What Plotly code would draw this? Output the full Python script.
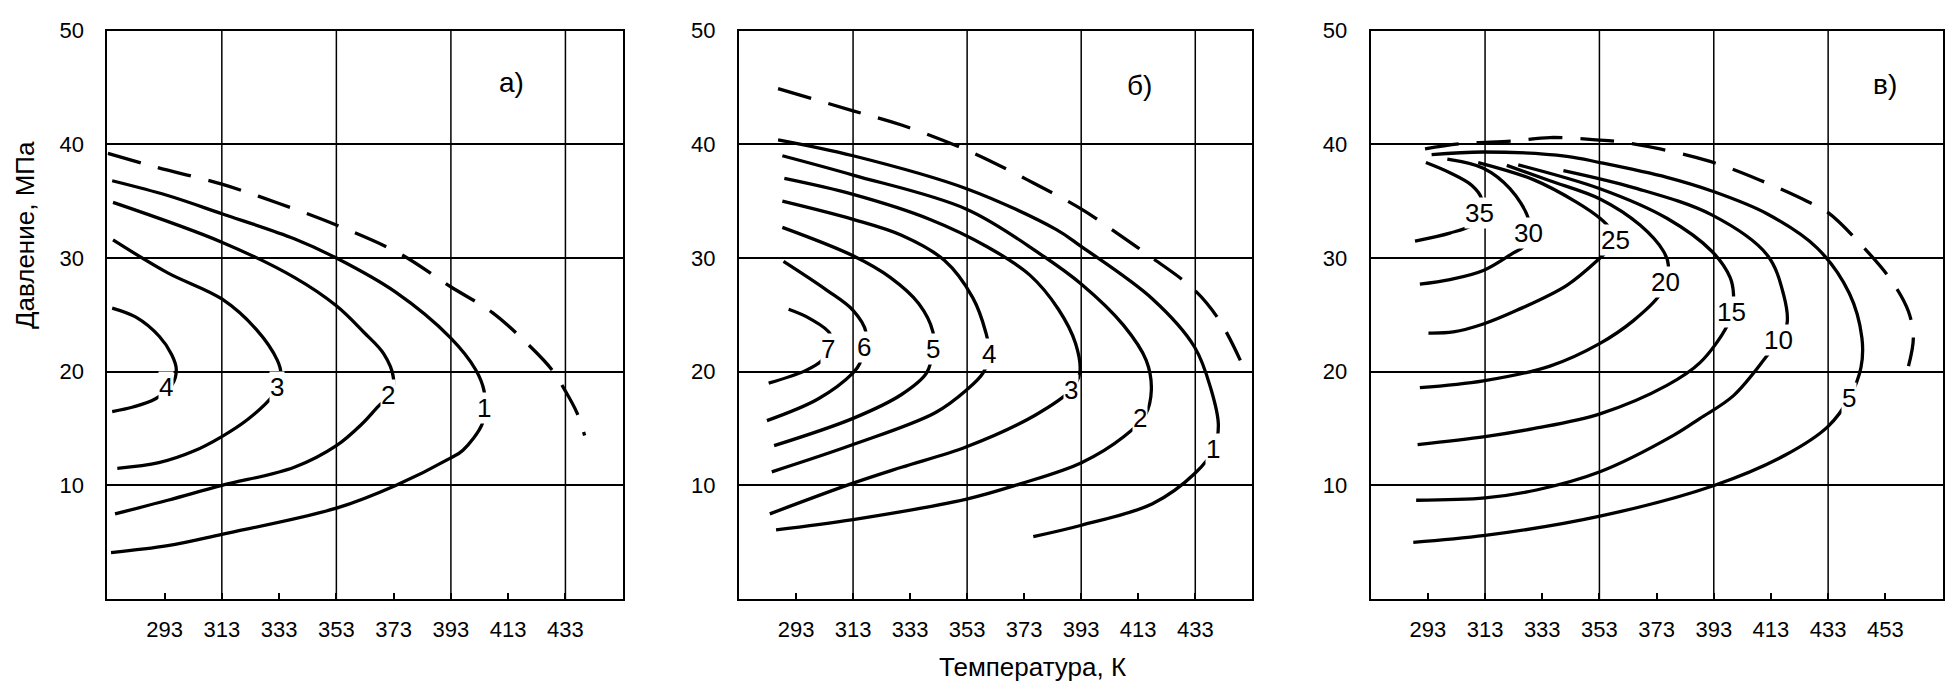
import plotly.graph_objects as go

# ---------------- data (T in K, P in MPa) ----------------
# Panel а)
A_DASH_T = [273.2, 290, 313, 333, 353, 375.1, 392.8, 407.5, 420.8, 428.2, 433, 437, 439.7]
A_DASH_P = [39.2, 38.0, 36.5, 34.8, 32.9, 30.4, 27.5, 25.2, 22.2, 20.2, 18.3, 16.4, 14.4]
A1_T = [274.7, 294.1, 313, 338.3, 353, 373.7, 392.8, 401.6, 404.6, 404.6, 403.9, 397.2, 392.8, 373.7, 353, 313, 294.1, 274.3]
A1_P = [36.8, 35.5, 33.9, 31.7, 30.0, 27.0, 23.0, 20.2, 18.3, 16.8, 15.4, 13.1, 12.4, 10.0, 8.0, 5.7, 4.7, 4.1]
A2_T = [275, 313, 338.3, 353, 362.5, 369.5, 372.9, 372, 367.8, 361.9, 353, 338.3, 313, 294.1, 275.7]
A2_P = [34.9, 31.4, 28.3, 25.8, 23.5, 21.6, 19.5, 18.0, 17.0, 15.4, 13.5, 11.6, 10.0, 8.7, 7.5]
A3_T = [275, 294.1, 313, 325.1, 332.4, 333.6, 332.5, 330.5, 322, 313, 303, 291, 276.5]
A3_P = [31.6, 28.7, 26.4, 23.7, 21.0, 19.9, 18.7, 17.8, 15.8, 14.3, 13.0, 12.0, 11.5]
A4_T = [274.7, 283, 291.2, 295.5, 297.1, 295.5, 289.7, 282, 274.7]
A4_P = [25.6, 24.8, 23.1, 21.5, 20.2, 18.8, 17.6, 16.9, 16.5]
A_LAB = ["4", "3", "2", "1"]
A_LAB_T = [293.4, 332.1, 371.0, 404.6]
A_LAB_P = [18.7, 18.7, 18.0, 16.8]

# Panel б)
B_DASH_T = [286.7, 313, 330, 352.8, 374, 393.1, 407.8, 418, 432.7, 441.5, 448.8]
B_DASH_P = [44.9, 42.95, 41.7, 39.5, 36.9, 34.3, 31.8, 30.0, 27.2, 24.5, 21.0]
B1_T = [286.7, 313, 352.8, 384.3, 393.1, 418, 432.7, 438.6, 441.1, 439.5, 433, 418, 393.1, 376.2]
B1_P = [40.4, 39.0, 36.1, 32.5, 31.0, 26.4, 22.2, 18.4, 15.3, 13.2, 11.1, 8.4, 6.5, 5.5]
B2_T = [288.2, 313, 352.8, 378.4, 393.1, 407.8, 415.8, 417.6, 415.5, 408, 393.1, 371.1, 352.8, 313, 286]
B2_P = [39.0, 37.3, 34.3, 30.4, 27.7, 24.1, 21.0, 18.4, 16.2, 14.3, 12.0, 10.1, 8.8, 7.0, 6.1]
B3_T = [288.9, 313, 340, 360, 375, 385, 391, 392.5, 389.4, 377, 352.8, 330, 313, 283.8]
B3_P = [37.0, 35.6, 33.4, 31.0, 28.5, 25.5, 22.5, 19.9, 18.4, 16.2, 13.4, 11.6, 10.2, 7.5]
B4_T = [288.2, 313, 330, 345, 355, 359.5, 360.8, 358.6, 352.8, 341.8, 313, 284.5]
B4_P = [35.0, 33.4, 32.0, 29.8, 26.5, 23.5, 21.6, 19.9, 18.4, 16.4, 13.6, 11.2]
B5_T = [288.2, 313, 326, 336, 341, 341.0, 338.8, 330, 313, 285.3]
B5_P = [32.7, 30.2, 28.3, 26.0, 23.5, 22.0, 19.9, 18.0, 15.9, 13.5]
B6_T = [288.6, 303.6, 313, 317.5, 316.8, 315.3, 313, 300.7, 282.8]
B6_P = [29.7, 27.2, 25.4, 23.5, 22.2, 20.7, 19.9, 17.6, 15.7]
B7_T = [290.4, 297.7, 305, 304.3, 302.1, 296.3, 283.4]
B7_P = [25.5, 24.7, 23.3, 22.0, 21.0, 20.1, 19.0]
B_LAB = ["7", "6", "5", "4", "3", "2", "1"]
B_LAB_T = [304.3, 316.8, 341.0, 360.8, 389.4, 413.6, 439.3]
B_LAB_P = [22.0, 22.2, 22.0, 21.6, 18.4, 15.9, 13.2]

# Panel в)
C_DASH_T = [292.0, 304.2, 322.9, 335.7, 351.8, 360.8, 374.2, 391.7, 409.2, 425.6, 433, 444.8, 455.2, 461.1, 462.8, 461.1]
C_DASH_P = [39.6, 40.05, 40.3, 40.6, 40.4, 40.2, 39.6, 38.5, 36.85, 35.0, 34.0, 31.1, 28.0, 25.3, 23.0, 20.5]
C5_T = [294.3, 312.4, 341.6, 353.2, 376.6, 392.3, 411.6, 429.1, 440.4, 444.8, 444.5, 440.4, 433, 418.2, 393.1, 353.2, 313, 287.9]
C5_P = [39.1, 39.33, 38.95, 38.4, 37.1, 35.9, 33.9, 30.9, 26.9, 23.0, 20.4, 17.7, 15.2, 12.7, 10.0, 7.3, 5.6, 5.0]
C10_T = [340.4, 364.9, 392.3, 411.6, 417.4, 418.6, 415.6, 411.6, 399.9, 388.2, 378.9, 353.2, 331, 313, 288.9]
C10_P = [37.7, 36.2, 33.8, 30.3, 26.8, 24.2, 22.75, 21.4, 17.9, 15.9, 14.4, 11.2, 9.6, 8.9, 8.7]
C15_T = [324.6, 353.2, 376.6, 392.3, 398.7, 399.9, 399.3, 397.6, 388.2, 376.6, 353.2, 329.9, 313, 289.4]
C15_P = [38.2, 36.1, 33.5, 30.6, 28.3, 26.8, 25.3, 24.0, 20.8, 18.8, 16.3, 15.0, 14.3, 13.6]
C20_T = [320.6, 335.7, 353.2, 367.2, 375.4, 377.1, 376, 374.2, 364.9, 353.2, 335.7, 312.4, 290.2]
C20_P = [38.15, 36.8, 35.2, 32.9, 30.6, 29.4, 27.9, 26.8, 24.5, 22.5, 20.5, 19.2, 18.6]
C25_T = [310.6, 329.9, 345.1, 353.2, 356.7, 358.5, 355.6, 353.2, 341.6, 324.1, 312.4, 301.9, 293.2]
C25_P = [38.4, 36.9, 34.9, 33.5, 32.6, 31.6, 30.6, 30.0, 27.6, 25.4, 24.2, 23.5, 23.4]
C30_T = [299.8, 312.4, 321.7, 328.1, 328.1, 326.4, 322.9, 312.4, 300.7, 290.2]
C30_P = [38.7, 37.9, 36.1, 33.5, 32.2, 31.0, 30.45, 28.9, 28.1, 27.7]
C35_T = [292.3, 300.7, 308.3, 311.8, 311.2, 308.3, 300.7, 288.5]
C35_P = [38.4, 37.5, 36.4, 35.2, 34.0, 32.9, 32.2, 31.5]
C_LAB = ["35", "30", "25", "20", "15", "10", "5"]
C_LAB_T = [311.2, 328.1, 358.5, 376.0, 399.3, 415.6, 440.4]
C_LAB_P = [34.0, 32.2, 31.6, 27.9, 25.3, 22.75, 17.7]

PANEL_TITLES = ["а)", "б)", "в)"]
PANEL_TITLE_T = [414.2, 413.6, 453.0]
PANEL_TITLE_P = [45.4, 45.2, 45.3]

X_TICKS_AB = [293, 313, 333, 353, 373, 393, 413, 433]
X_TICKS_C = [293, 313, 333, 353, 373, 393, 413, 433, 453]
X_GRID = [313, 353, 393, 433]
Y_TICKS = [10, 20, 30, 40, 50]
X_RANGES = [[273, 453], [273, 453], [273, 473]]

FONT = "Liberation Sans, Arial, sans-serif"
W, H = 1958, 693
LW = 3.3

fig = go.Figure()
panels = [
    ("x", "y", [(A_DASH_T, A_DASH_P)], [(A1_T, A1_P), (A2_T, A2_P), (A3_T, A3_P), (A4_T, A4_P)],
     A_LAB, A_LAB_T, A_LAB_P),
    ("x2", "y2", [(B_DASH_T, B_DASH_P)], [(B1_T, B1_P), (B2_T, B2_P), (B3_T, B3_P), (B4_T, B4_P),
                                        (B5_T, B5_P), (B6_T, B6_P), (B7_T, B7_P)],
     B_LAB, B_LAB_T, B_LAB_P),
    ("x3", "y3", [(C_DASH_T, C_DASH_P)], [(C5_T, C5_P), (C10_T, C10_P), (C15_T, C15_P), (C20_T, C20_P),
                                        (C25_T, C25_P), (C30_T, C30_P), (C35_T, C35_P)],
     C_LAB, C_LAB_T, C_LAB_P),
]

annotations = []
shapes = []
for i, (xa, ya, dashed, solids, labs, lt, lp) in enumerate(panels):
    for t, p in dashed:
        fig.add_trace(go.Scatter(x=t, y=p, xaxis=xa, yaxis=ya, mode="lines",
                                 line=dict(color="black", width=LW, dash="34px,18px",
                                           shape="spline", smoothing=1.0),
                                 showlegend=False, hoverinfo="skip"))
    for t, p in solids:
        fig.add_trace(go.Scatter(x=t, y=p, xaxis=xa, yaxis=ya, mode="lines",
                                 line=dict(color="black", width=LW, shape="spline", smoothing=1.0),
                                 showlegend=False, hoverinfo="skip"))
    for txt, t, p in zip(labs, lt, lp):
        annotations.append(dict(x=t, y=p, xref=xa, yref=ya, text=txt, showarrow=False,
                                xanchor="center", yanchor="middle",
                                font=dict(family=FONT, size=26, color="black"),
                                bgcolor="white", borderpad=0))
    annotations.append(dict(x=PANEL_TITLE_T[i], y=PANEL_TITLE_P[i], xref=xa, yref=ya,
                            text=PANEL_TITLES[i], showarrow=False,
                            xanchor="center", yanchor="middle",
                            font=dict(family=FONT, size=28, color="black")))
    for g in X_GRID:
        shapes.append(dict(type="line", xref=xa, yref=ya + " domain", x0=g, x1=g, y0=0, y1=1,
                           line=dict(color="black", width=1.5), layer="below"))

# axis titles
annotations.append(dict(x=25 / W, y=1 - 227 / H, xref="paper", yref="paper",
                        xanchor="center", yanchor="middle",
                        text="Давление, МПа", textangle=-90, showarrow=False,
                        font=dict(family=FONT, size=26, color="black")))
annotations.append(dict(x=1032 / W, y=1 - 667 / H, xref="paper", yref="paper",
                        xanchor="center", yanchor="middle",
                        text="Температура, К", showarrow=False,
                        font=dict(family=FONT, size=26, color="black")))

x_domains = [[107.3 / W, 622.7 / W], [739 / W, 1252.3 / W], [1370.7 / W, 1942.5 / W]]
y_domain = [1 - 597.5 / H, 1 - 19 / H]

layout = dict(width=W, height=H, margin=dict(l=0, r=0, t=0, b=0),
              paper_bgcolor="white", plot_bgcolor="white",
              font=dict(family=FONT, size=22, color="black"),
              annotations=annotations, shapes=shapes, showlegend=False)

for i in range(3):
    xs = "xaxis" if i == 0 else f"xaxis{i + 1}"
    ys = "yaxis" if i == 0 else f"yaxis{i + 1}"
    ya = "y" if i == 0 else f"y{i + 1}"
    xa = "x" if i == 0 else f"x{i + 1}"
    layout[xs] = dict(domain=x_domains[i], range=X_RANGES[i], anchor=ya,
                      tickmode="array", tickvals=X_TICKS_C if i == 2 else X_TICKS_AB,
                      showgrid=False, zeroline=False, showline=True, mirror=True,
                      linecolor="black", linewidth=2, ticks="inside", ticklen=6,
                      tickwidth=1.5, tickcolor="black", ticklabelstandoff=9,
                      tickfont=dict(family=FONT, size=22, color="black"))
    layout[ys] = dict(domain=y_domain, range=[0, 50], anchor=xa,
                      tickmode="array", tickvals=Y_TICKS,
                      showgrid=True, gridcolor="black", gridwidth=1.5, zeroline=False,
                      showline=True, mirror=True, linecolor="black", linewidth=2,
                      ticks="inside", ticklen=6, tickwidth=1.5, tickcolor="black",
                      ticklabelstandoff=17,
                      tickfont=dict(family=FONT, size=22, color="black"))

fig.update_layout(**layout)
fig.write_html("out.html")
